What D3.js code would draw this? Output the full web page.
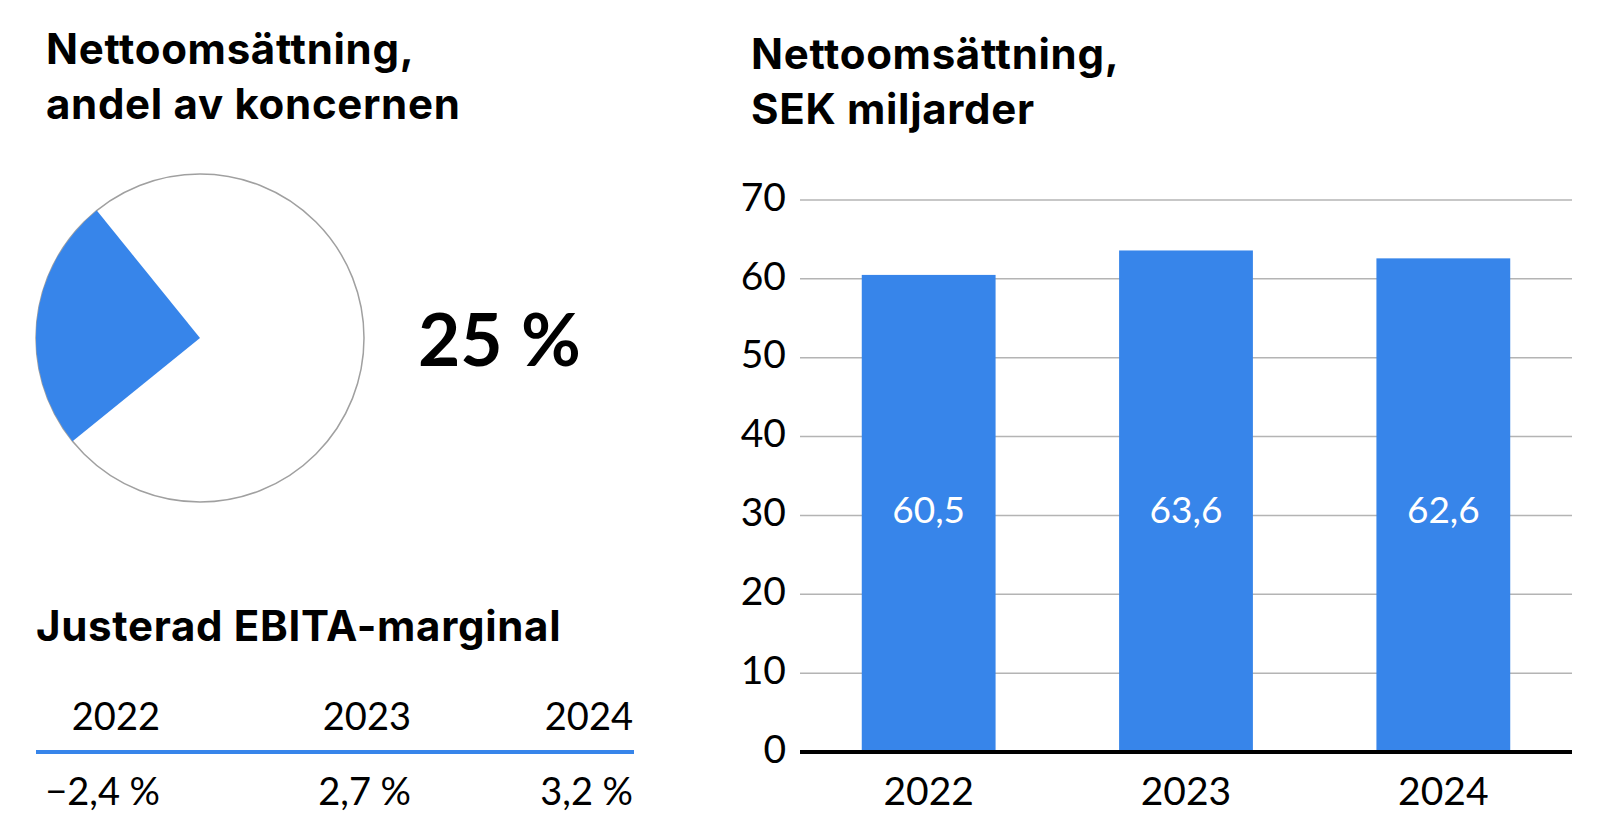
<!DOCTYPE html>
<html><head><meta charset="utf-8">
<script src="https://cdn.jsdelivr.net/npm/d3@7"></script>
<style>
html,body{margin:0;padding:0;background:#fff;}
text{font-family:Lato,"Noto Sans",sans-serif;fill:#000;}
text.title{font-family:Inter,Lato,sans-serif;font-weight:700;letter-spacing:0.7px;}
</style></head>
<body>
<svg id="c" width="1608" height="836"></svg>
<script>
// ---- data ----
const pieTitle = ["Nettoomsättning,", "andel av koncernen"];
const shareValues = [25, 75];            // share of group (blue), rest
const shareLabel = "25\u202F%";
const marginTitle = "Justerad EBITA-marginal";
const marginYears = ["2022", "2023", "2024"];
const marginValues = [-2.4, 2.7, 3.2];
const barTitle = ["Nettoomsättning,", "SEK miljarder"];
const barYears = ["2022", "2023", "2024"];
const barValues = [60.5, 63.6, 62.6];
const yTicks = [0, 10, 20, 30, 40, 50, 60, 70];

const BLUE = "#3785ea";
const svg = d3.select("#c");
const fmt = v => (v < 0 ? "\u2212" : "") + Math.abs(v).toFixed(1).replace(".", ",") + "\u202F%";

// ---- left: pie ----
svg.append("g").selectAll("text").data(pieTitle).join("text").attr("class", "title")
  .attr("x", 46).attr("y", (d, i) => 64 + i * 55)
  .attr("font-size", 42).text(d => d);

const cx = 200, cy = 338, r = 164;
const pie = d3.pie().sort(null).startAngle(231 * Math.PI / 180).endAngle((231 + 360) * Math.PI / 180);
const arc = d3.arc().innerRadius(0).outerRadius(r);
const pg = svg.append("g").attr("transform", `translate(${cx},${cy})`);
pg.append("circle").attr("r", r).attr("fill", "#fff").attr("stroke", "#a0a0a0").attr("stroke-width", 1.5);
pg.selectAll("path").data(pie(shareValues)).join("path")
  .attr("d", arc).attr("fill", (d, i) => i === 0 ? BLUE : "none");

svg.append("text").attr("x", 418).attr("y", 366)
  .attr("font-size", 73).attr("font-weight", 700).text(shareLabel);

// ---- left: margin table ----
svg.append("text").attr("class", "title").attr("x", 36).attr("y", 641)
  .attr("font-size", 42).text(marginTitle);

const colRight = d3.scaleOrdinal().domain(marginYears).range([160, 411, 633]);
const tg = svg.append("g");
tg.selectAll("text.yr").data(marginYears).join("text").attr("class", "yr")
  .attr("x", d => colRight(d)).attr("y", 730).attr("text-anchor", "end")
  .attr("font-size", 38).text(d => d);
tg.append("line").attr("x1", 36).attr("x2", 634).attr("y1", 752).attr("y2", 752)
  .attr("stroke", BLUE).attr("stroke-width", 4);
tg.selectAll("text.val").data(marginValues).join("text").attr("class", "val")
  .attr("x", (d, i) => colRight(marginYears[i])).attr("y", 805).attr("text-anchor", "end")
  .attr("font-size", 38).text(d => fmt(d));

// ---- right: bar chart ----
svg.append("g").selectAll("text").data(barTitle).join("text").attr("class", "title")
  .attr("x", 751).attr("y", (d, i) => 69 + i * 55)
  .attr("font-size", 42).text(d => d);

const x0 = 800, x1 = 1572;
const y = d3.scaleLinear().domain([0, 70]).range([752, 200]);
const x = d3.scaleBand().domain(barYears).range([x0, x1]).paddingInner(0.48).paddingOuter(0.24);

const grid = svg.append("g");
grid.selectAll("line").data(yTicks.filter(t => t > 0)).join("line")
  .attr("x1", x0).attr("x2", x1).attr("y1", d => y(d)).attr("y2", d => y(d))
  .attr("stroke", "#b4b4b4").attr("stroke-width", 1.5);
grid.selectAll("text").data(yTicks).join("text")
  .attr("x", 786).attr("y", d => y(d) - 3).attr("dy", "0.35em").attr("text-anchor", "end")
  .attr("font-size", 39).text(d => d);

svg.append("g").selectAll("rect").data(barValues).join("rect")
  .attr("x", (d, i) => x(barYears[i])).attr("width", x.bandwidth())
  .attr("y", d => y(d)).attr("height", d => y(0) - y(d)).attr("fill", BLUE);

svg.append("line").attr("x1", x0).attr("x2", x1).attr("y1", y(0)).attr("y2", y(0))
  .attr("stroke", "#000").attr("stroke-width", 4);

svg.append("g").selectAll("text").data(barValues).join("text")
  .attr("x", (d, i) => x(barYears[i]) + x.bandwidth() / 2).attr("y", y(30) - 5).attr("dy", "0.35em")
  .attr("text-anchor", "middle").attr("font-size", 37).style("fill", "#fff")
  .text(d => d.toFixed(1).replace(".", ","));

svg.append("g").selectAll("text").data(barYears).join("text")
  .attr("x", d => x(d) + x.bandwidth() / 2).attr("y", 805).attr("text-anchor", "middle")
  .attr("font-size", 39).text(d => d);
</script>
</body></html>
